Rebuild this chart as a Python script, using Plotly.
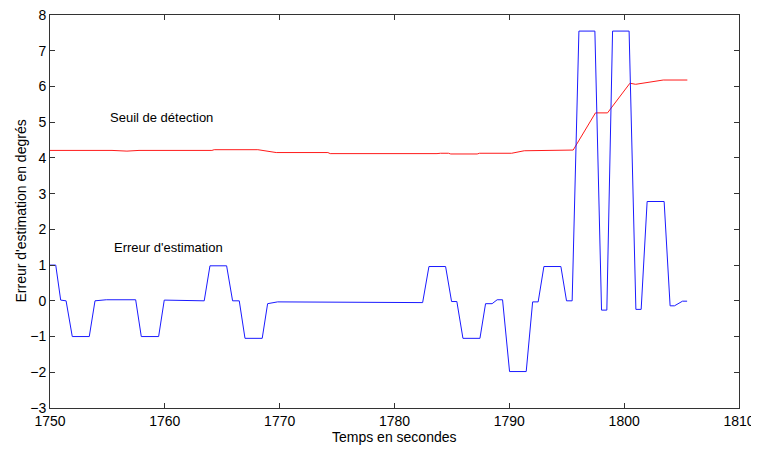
import plotly.graph_objects as go

# Erreur d'estimation (bleu)
t_err = [1750.0, 1750.5, 1750.93, 1751.4, 1751.94, 1753.42, 1753.92, 1754.9, 1757.46,
         1757.95, 1759.46, 1759.95, 1763.43, 1763.93, 1765.38, 1765.9, 1766.48, 1766.98,
         1768.48, 1768.95, 1769.82, 1779.7, 1780.0, 1782.45, 1783.0, 1784.45, 1784.97,
         1785.43, 1785.96, 1787.44, 1787.93, 1788.5, 1788.94, 1789.41, 1790.02, 1791.47,
         1792.03, 1792.51, 1793.01, 1794.49, 1794.98, 1795.47, 1796.06, 1797.45, 1798.03,
         1798.49, 1798.99, 1800.43, 1801.02, 1801.48, 1802.0, 1803.48, 1804.0, 1804.38,
         1805.08, 1805.48]
err = [1.0, 1.0, 0.02, 0.0, -1.0, -1.0, 0.0, 0.03, 0.03,
       -1.0, -1.0, 0.02, 0.0, 0.98, 0.98, 0.0, 0.0, -1.05,
       -1.05, -0.08, -0.03, -0.03, -0.05, -0.05, 0.96, 0.96, -0.02,
       -0.02, -1.05, -1.05, -0.08, -0.08, 0.03, 0.03, -1.98, -1.98,
       -0.03, -0.03, 0.96, 0.96, 0.0, 0.0, 7.55, 7.55, -0.26,
       -0.26, 7.55, 7.55, -0.24, -0.24, 2.78, 2.78, -0.14, -0.14,
       -0.01, -0.01]

# Seuil de détection (rouge)
t_seuil = [1750.0, 1753.1, 1753.3, 1755.2, 1755.4, 1756.7, 1757.75, 1764.1, 1764.3,
           1768.1, 1769.7, 1774.2, 1774.4, 1783.7, 1784.0, 1784.7, 1784.9, 1787.2, 1787.4,
           1790.2, 1791.3, 1795.56, 1797.5, 1798.55, 1800.5, 1801.0, 1802.8, 1803.4, 1805.5]
seuil = [4.21, 4.21, 4.23, 4.23, 4.21, 4.19, 4.21, 4.21, 4.23,
         4.23, 4.15, 4.15, 4.12, 4.12, 4.13, 4.13, 4.11, 4.11, 4.13,
         4.13, 4.2, 4.22, 5.26, 5.26, 6.09, 6.06, 6.16, 6.18, 6.18]

fig = go.Figure()
fig.add_trace(go.Scatter(x=t_seuil, y=seuil, mode="lines",
                         line=dict(color="#ff1a1a", width=1)))
fig.add_trace(go.Scatter(x=t_err, y=err, mode="lines",
                         line=dict(color="#1a1aff", width=1)))

fig.add_annotation(x=1759.75, y=5.13, text="Seuil de détection", showarrow=False,
                   font=dict(size=13, color="black"))
fig.add_annotation(x=1760.3, y=1.5, text="Erreur d'estimation", showarrow=False,
                   font=dict(size=13, color="black"))

# titres d'axes placés à la main (automargin coupé)
fig.add_annotation(xref="paper", yref="paper", x=0.5, y=-0.074, yanchor="middle",
                   text="Temps en secondes", showarrow=False, font=dict(size=14))
fig.add_annotation(xref="paper", yref="paper", x=-0.0435, y=0.5, textangle=-90,
                   xanchor="center", yanchor="middle",
                   text="Erreur d'estimation en degrés", showarrow=False, font=dict(size=14))

axe = dict(showgrid=False, zeroline=False, showline=True, linecolor="#333333",
           linewidth=1, mirror="ticks", ticks="inside", ticklen=5, automargin=False,
           ticklabeloverflow="allow",
           tickcolor="#333333", tickfont=dict(size=14, color="black"))

# la page ajoute 8 px de marge (body), d'où les marges décalées
fig.update_layout(
    width=759, height=451,
    margin=dict(l=42, r=28, t=7, b=51),
    plot_bgcolor="white", paper_bgcolor="white",
    showlegend=False,
    font=dict(family="Liberation Sans, Arial", color="black"),
    xaxis=dict(axe, range=[1750, 1810], dtick=10),
    yaxis=dict(axe, range=[-3, 8], dtick=1),
)

fig.write_html("out.html")
